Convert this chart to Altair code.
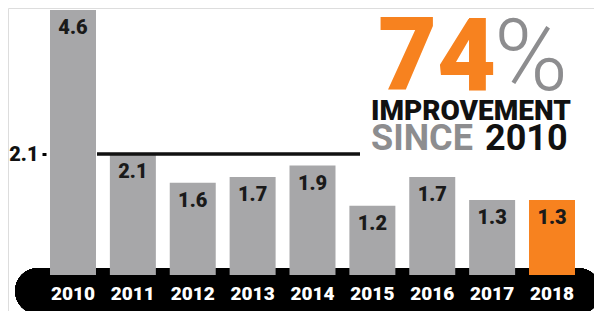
import altair as alt
import pandas as pd

years = ["2010", "2011", "2012", "2013", "2014", "2015", "2016", "2017", "2018"]
values = [4.6, 2.1, 1.6, 1.7, 1.9, 1.2, 1.7, 1.3, 1.3]
labels = ["4.6", "2.1", "1.6", "1.7", "1.9", "1.2", "1.7", "1.3", "1.3"]
highlight = [False] * 8 + [True]
ref_value = [2.1]
headline_big = ["74"]
headline_pct = ["%"]
headline_line1 = ["IMPROVEMENT"]
headline_since = ["SINCE"]
headline_year = ["2010"]

GRAY = "#a7a7a9"
ORANGE = "#f7821f"
FONT = "Roboto"

df = pd.DataFrame({"year": years, "value": values, "label": labels, "hl": highlight})
ref_df = pd.DataFrame({"v": ref_value})

xscale = alt.Scale(domain=years, range=[42, 567], paddingInner=0.232, paddingOuter=0)
yscale = alt.Scale(domain=[0, 4.6], range=[267, 2])

base = alt.Chart(df)

pill = base.mark_rule(color="black", strokeWidth=46, strokeCap="round").encode(
    x=alt.value(30), x2=alt.value(570), y=alt.value(283)
)

bars = base.mark_bar().encode(
    x=alt.X("year:N", scale=xscale,
            axis=alt.Axis(title=None, domain=False, ticks=False, labelAngle=0, zindex=2,
                          labelColor="white", labelFont=FONT, labelFontSize=19,
                          labelFontWeight=900, offset=-27, labelPadding=0)),
    y=alt.Y("value:Q", scale=yscale,
            axis=alt.Axis(title=None, values=ref_value, format=".1f", domain=False,
                          grid=False, tickSize=4, tickWidth=3, tickColor="black", zindex=2,
                          offset=-38, labelPadding=4, labelFont=FONT,
                          labelFontSize=20, labelFontWeight=900, labelColor="#111")),
    color=alt.Color("hl:N", scale=alt.Scale(domain=[False, True], range=[GRAY, ORANGE]), legend=None),
)

value_text = base.mark_text(baseline="top", dy=8, font=FONT, fontSize=20,
                            fontWeight=900, color="#1a1a1a").encode(
    x=alt.X("year:N", scale=xscale), y=alt.Y("value:Q", scale=yscale), text="label:N"
)

ref_line = alt.Chart(ref_df).mark_rule(color="#111", strokeWidth=3.5).encode(
    y=alt.Y("v:Q", scale=yscale), x=alt.value(89), x2=alt.value(352)
)

t_big = alt.Chart(pd.DataFrame({"t": headline_big})).mark_text(
    align="left", baseline="alphabetic", font=FONT, fontSize=102, fontWeight=900, color=ORANGE
).encode(x=alt.value(370), y=alt.value(82), text="t:N")

t_pct = alt.Chart(pd.DataFrame({"t": headline_pct})).mark_text(
    align="left", baseline="alphabetic", font=FONT, fontSize=100, fontWeight=300, color="#8d8d8f"
).encode(x=alt.value(486), y=alt.value(82), text="t:N")

t_l1 = alt.Chart(pd.DataFrame({"t": headline_line1})).mark_text(
    align="left", baseline="alphabetic", font=FONT, fontSize=28, fontWeight=900, color="#111"
).encode(x=alt.value(363), y=alt.value(112), text="t:N")

t_since = alt.Chart(pd.DataFrame({"t": headline_since})).mark_text(
    align="left", baseline="alphabetic", font=FONT, fontSize=36, fontWeight="bold", color="#8d8d8f"
).encode(x=alt.value(363), y=alt.value(142), text="t:N")

t_year = alt.Chart(pd.DataFrame({"t": headline_year})).mark_text(
    align="left", baseline="alphabetic", font=FONT, fontSize=36, fontWeight="bold", color="#111"
).encode(x=alt.value(477), y=alt.value(142), text="t:N")

chart = alt.layer(pill, bars, value_text, ref_line, t_big, t_pct, t_l1, t_since, t_year).properties(
    width=586, height=303, padding=0, autosize=alt.AutoSizeParams(type="none")
).configure_view(stroke=None).configure(background="white")

chart.save("out.html", embed_options={"renderer": "svg", "actions": False})
